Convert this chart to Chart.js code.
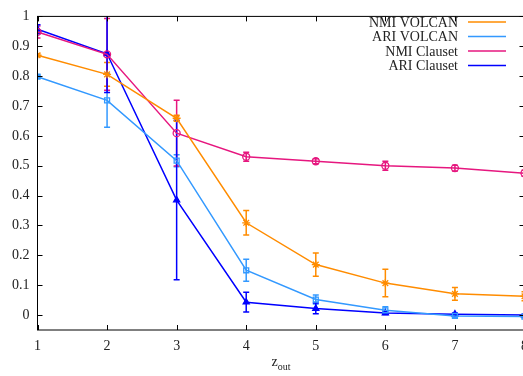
<!DOCTYPE html>
<html>
<head>
<meta charset="utf-8">
<script src="https://cdn.jsdelivr.net/npm/chart.js@4/dist/chart.umd.min.js"></script>
<style>
html,body{margin:0;padding:0;background:#fff;overflow:hidden;}
#wrap{width:540px;height:376px;}
</style>
</head>
<body>
<div id="wrap"><canvas id="c" width="540" height="376"></canvas></div>
<script>
const zOut = [1, 2, 3, 4, 5, 6, 7, 8];
const yTicks = [0, 0.1, 0.2, 0.3, 0.4, 0.5, 0.6, 0.7, 0.8, 0.9, 1];
const xTicks = [1, 2, 3, 4, 5, 6, 7, 8];

const nmiVolcan    = [0.870, 0.806, 0.659, 0.309, 0.169, 0.107, 0.071, 0.063];
const nmiVolcanErr = [0.005, 0.040, 0.010, 0.041, 0.039, 0.046, 0.021, 0.015];
const ariVolcan    = [0.798, 0.719, 0.517, 0.150, 0.052, 0.016, -0.003, -0.005];
const ariVolcanErr = [0.005, 0.090, 0.020, 0.037, 0.015, 0.012, 0.005, 0.004];
const nmiClauset    = [0.948, 0.873, 0.609, 0.530, 0.515, 0.500, 0.492, 0.475];
const nmiClausetErr = [0.020, 0.120, 0.110, 0.015, 0.008, 0.015, 0.010, 0.010];
const ariClauset    = [0.957, 0.875, 0.385, 0.043, 0.022, 0.007, 0.003, 0.000];
const ariClausetErr = [0.015, 0.130, 0.267, 0.033, 0.018, 0.005, 0.004, 0.003];

const seriesNames = ['NMI VOLCAN', 'ARI VOLCAN', 'NMI Clauset', 'ARI Clauset'];
const colors = ['#ff8c00', '#3399ff', '#e6177f', '#0000ff'];
const FONT = '"Liberation Serif", "Times New Roman", serif';

function pts(vals){ return zOut.map((x,i)=>({x:x, y:vals[i]})); }

const errs = [nmiVolcanErr, ariVolcanErr, nmiClausetErr, ariClausetErr];

const errorBars = {
  id:'errorBars',
  beforeDatasetsDraw(chart){
    const {ctx, chartArea:a, scales:{x, y}} = chart;
    ctx.save();
    ctx.beginPath(); ctx.rect(a.left, a.top, a.right-a.left, a.bottom-a.top); ctx.clip();
    chart.data.datasets.forEach((ds, di)=>{
      ctx.strokeStyle = ds.borderColor; ctx.lineWidth = 1.5;
      ds.data.forEach((p, i)=>{
        const e = errs[di][i];
        const px = x.getPixelForValue(p.x);
        const y1 = y.getPixelForValue(p.y + e), y2 = y.getPixelForValue(p.y - e);
        ctx.beginPath();
        ctx.moveTo(px, y1); ctx.lineTo(px, y2);
        ctx.moveTo(px-3, y1); ctx.lineTo(px+3, y1);
        ctx.moveTo(px-3, y2); ctx.lineTo(px+3, y2);
        ctx.stroke();
      });
    });
    ctx.restore();
  }
};

const frame = {
  id:'frame',
  afterDraw(chart){
    const {ctx, chartArea:a, scales:{x, y}} = chart;
    ctx.save();
    ctx.strokeStyle = '#000'; ctx.lineWidth = 1;
    ctx.strokeRect(a.left, a.top, a.right-a.left, a.bottom-a.top);
    ctx.beginPath();
    yTicks.forEach(v=>{
      const py = Math.round(y.getPixelForValue(v))+0.5;
      ctx.moveTo(a.left, py); ctx.lineTo(a.left+5, py);
      ctx.moveTo(a.right, py); ctx.lineTo(a.right-5, py);
    });
    xTicks.forEach(v=>{
      const px = Math.round(x.getPixelForValue(v))+0.5;
      ctx.moveTo(px, a.bottom); ctx.lineTo(px, a.bottom-5);
      ctx.moveTo(px, a.top); ctx.lineTo(px, a.top+5);
    });
    ctx.stroke();
    // x axis title z_out
    ctx.fillStyle = '#222';
    const cx = (a.left + a.right)/2;
    ctx.font = '14px ' + FONT;
    ctx.textBaseline = 'alphabetic';
    const zw = ctx.measureText('z').width;
    ctx.font = '10px ' + FONT;
    const ow = ctx.measureText('out').width;
    const sx = cx - (zw+ow)/2;
    ctx.font = '14px ' + FONT;
    ctx.textAlign = 'left';
    ctx.fillText('z', sx, 366);
    ctx.font = '10px ' + FONT;
    ctx.fillText('out', sx+zw, 370);
    // legend
    ctx.font = '14px ' + FONT;
    ctx.textAlign = 'right'; ctx.textBaseline = 'middle';
    seriesNames.forEach((n, i)=>{
      const ly = 23 + i*14.5;
      ctx.fillStyle = '#222';
      ctx.fillText(n, 458, ly);
      ctx.strokeStyle = colors[i]; ctx.lineWidth = 1.5;
      ctx.beginPath(); ctx.moveTo(468, ly-1); ctx.lineTo(506, ly-1); ctx.stroke();
    });
    ctx.restore();
  }
};

const mk = (label, vals, color, style, fill, r) => ({
  label, data: pts(vals), borderColor: color, backgroundColor: color,
  borderWidth: 1.5, pointStyle: style, pointRadius: r, pointBorderWidth: 1.3,
  pointBackgroundColor: fill ? color : 'rgba(0,0,0,0)', pointBorderColor: color,
  tension: 0, fill: false
});

new Chart(document.getElementById('c'), {
  type: 'line',
  data: {
    datasets: [
      mk(seriesNames[0], nmiVolcan, colors[0], 'star', false, 4),
      mk(seriesNames[1], ariVolcan, colors[1], 'rect', false, 3.5),
      mk(seriesNames[2], nmiClauset, colors[2], 'circle', false, 3.5),
      mk(seriesNames[3], ariClauset, colors[3], 'triangle', true, 3.5)
    ]
  },
  options: {
    responsive: false, animation: false,
    layout: { padding: { left: 0, top: 10, right: 15.5, bottom: 0 } },
    plugins: { legend: { display: false }, tooltip: { enabled: false } },
    scales: {
      x: {
        type: 'linear', min: 1, max: 8,
        afterBuildTicks: s => { s.ticks = xTicks.map(v=>({value:v})); },
        afterFit: s => { s.height = 46; },
        grid: { display: false, drawTicks: false },
        border: { display: false },
        ticks: { padding: 8, color: '#222', font: { family: FONT, size: 14 }, maxRotation: 0 }
      },
      y: {
        type: 'linear', min: -0.05, max: 1.0,
        afterBuildTicks: s => { s.ticks = yTicks.map(v=>({value:v})); },
        afterFit: s => { s.width = 37.5; },
        grid: { display: false, drawTicks: false },
        border: { display: false },
        ticks: { padding: 8, color: '#222', font: { family: FONT, size: 14 },
          callback: v => String(Math.round(v*10)/10) }
      }
    }
  },
  plugins: [errorBars, frame]
});
</script>
</body>
</html>
